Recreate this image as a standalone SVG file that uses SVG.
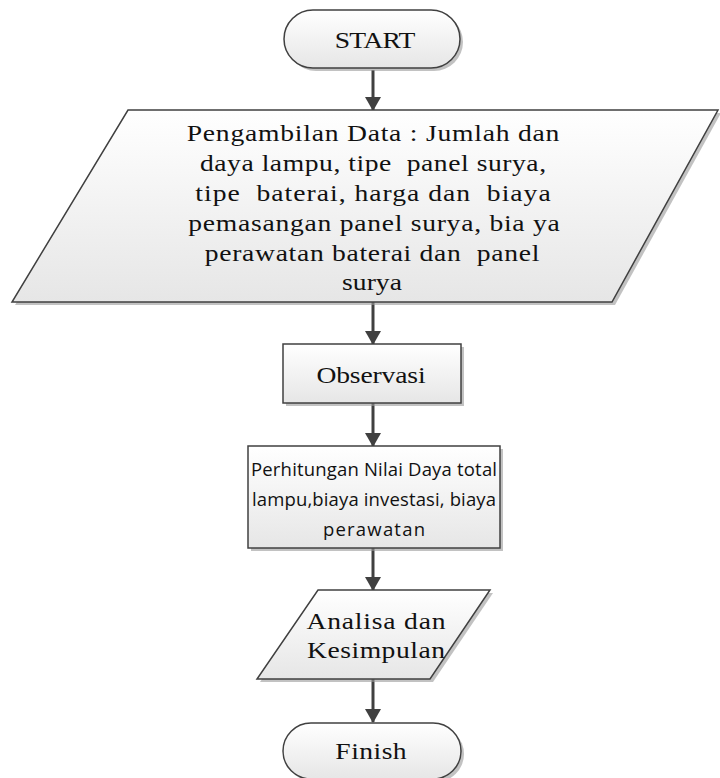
<svg xmlns="http://www.w3.org/2000/svg" width="720" height="778" viewBox="0 0 720 778">
<defs>
<linearGradient id="g" x1="0" y1="0" x2="0" y2="1">
<stop offset="0" stop-color="#ffffff"/>
<stop offset="1" stop-color="#e6e6e6"/>
</linearGradient>
<marker id="ah" markerWidth="14" markerHeight="16" refX="13" refY="8" orient="auto" markerUnits="userSpaceOnUse" viewBox="0 0 14 16">
<path d="M0,0 L14,8 L0,16 Z" fill="#404040"/>
</marker>
</defs>
<style>
.shape{fill:url(#g);stroke:#404040;stroke-width:1.5}
.shadow{fill:#9a9a9a;opacity:0.6}
.conn{stroke:#404040;stroke-width:3;fill:none}
.t{font-family:"Liberation Serif",serif;font-size:24px;fill:#111;text-anchor:middle;white-space:pre}
.c{font-family:"Open Sans","Noto Sans",sans-serif;font-size:18.5px;fill:#111;text-anchor:middle;white-space:pre}
</style>
<g id="connectors">
<line class="conn" x1="373" y1="70" x2="373" y2="110" marker-end="url(#ah)"/>
<line class="conn" x1="373" y1="302" x2="373" y2="344" marker-end="url(#ah)"/>
<line class="conn" x1="373" y1="403" x2="373" y2="446" marker-end="url(#ah)"/>
<line class="conn" x1="373" y1="548" x2="373" y2="590" marker-end="url(#ah)"/>
<line class="conn" x1="373" y1="679" x2="373" y2="722" marker-end="url(#ah)"/>
</g>
<g id="start">
<rect class="shadow" x="287" y="13" width="176" height="58" rx="29"/>
<rect class="shape" x="284" y="10" width="176" height="58" rx="29"/>
<text class="t" transform="translate(375,48) scale(1.15,1)" x="0" y="0" textLength="70" lengthAdjust="spacing">START</text>
</g>
<g id="data">
<polygon class="shadow" points="131,113 721,113 615,305 15,305"/>
<polygon class="shape" points="128,110 718,110 612,302 12,302"/>
<text class="t" transform="translate(373,141) scale(1.15,1)" x="0" y="0" textLength="324" lengthAdjust="spacing">Pengambilan Data : Jumlah dan</text>
<text class="t" transform="translate(373,171) scale(1.15,1)" x="0" y="0" textLength="301" lengthAdjust="spacing">daya lampu, tipe  panel surya,</text>
<text class="t" transform="translate(373,201) scale(1.15,1)" x="0" y="0" textLength="309" lengthAdjust="spacing">tipe  baterai, harga dan  biaya</text>
<text class="t" transform="translate(374,231) scale(1.15,1)" x="0" y="0" textLength="323" lengthAdjust="spacing">pemasangan panel surya, bia ya</text>
<text class="t" transform="translate(372,261) scale(1.15,1)" x="0" y="0" textLength="291" lengthAdjust="spacing">perawatan baterai dan  panel</text>
<text class="t" transform="translate(372,290) scale(1.15,1)" x="0" y="0" textLength="52" lengthAdjust="spacing">surya</text>
</g>
<g id="observasi">
<rect class="shadow" x="286" y="347" width="178" height="59"/>
<rect class="shape" x="283" y="344" width="178" height="59"/>
<text class="t" transform="translate(371,383) scale(1.15,1)" x="0" y="0" textLength="95" lengthAdjust="spacing">Observasi</text>
</g>
<g id="perhitungan">
<rect class="shadow" x="251" y="449" width="252" height="102"/>
<rect class="shape" x="248" y="446" width="252" height="102"/>
<text class="c" x="374" y="476" textLength="246" lengthAdjust="spacing">Perhitungan Nilai Daya total</text>
<text class="c" x="374" y="506" textLength="244" lengthAdjust="spacing">lampu,biaya investasi, biaya</text>
<text class="c" x="374" y="536" textLength="102" lengthAdjust="spacing">perawatan</text>
</g>
<g id="analisa">
<polygon class="shadow" points="321,593 493,593 433,682 260,682"/>
<polygon class="shape" points="318,590 490,590 430,679 257,679"/>
<text class="t" transform="translate(376,629) scale(1.15,1)" x="0" y="0" textLength="121" lengthAdjust="spacing">Analisa dan</text>
<text class="t" transform="translate(376,658) scale(1.15,1)" x="0" y="0" textLength="120" lengthAdjust="spacing">Kesimpulan</text>
</g>
<g id="finish">
<rect class="shadow" x="286" y="726" width="178" height="56" rx="28"/>
<rect class="shape" x="283" y="723" width="178" height="56" rx="28"/>
<text class="t" transform="translate(371,759) scale(1.15,1)" x="0" y="0" textLength="62" lengthAdjust="spacing">Finish</text>
</g>
</svg>
